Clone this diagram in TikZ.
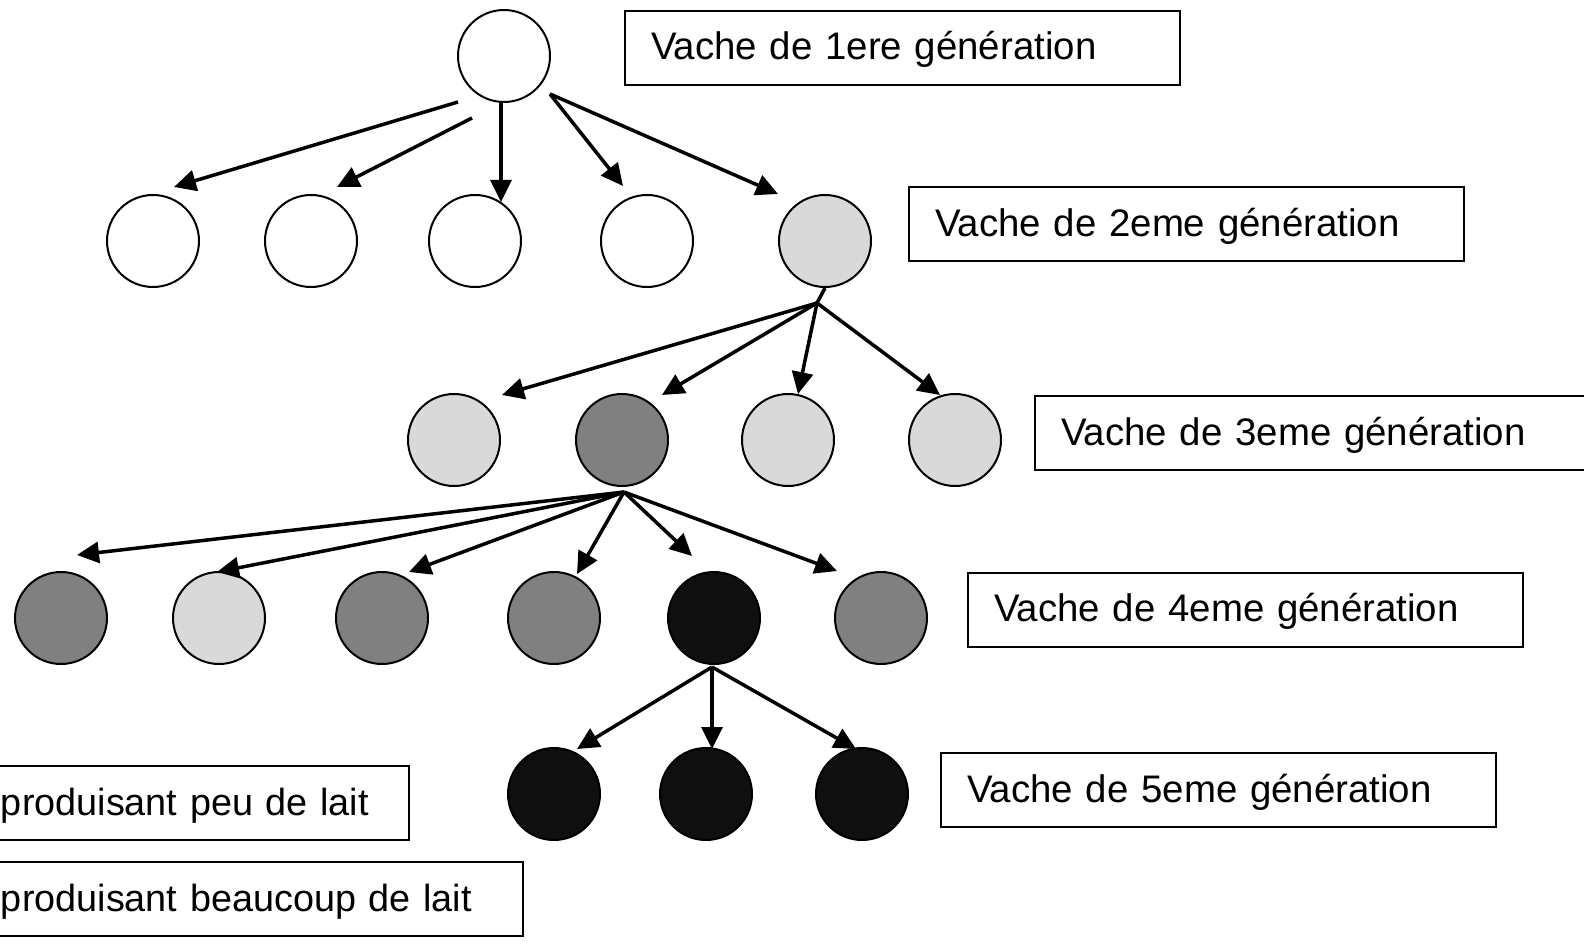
\documentclass[tikz,border=0pt]{standalone}
\usepackage{fontspec}
\setmainfont{Liberation Sans}
\usetikzlibrary{arrows.meta}

\definecolor{pale}{gray}{0.85}
\definecolor{midgray}{gray}{0.5}
\definecolor{dark}{gray}{0.06}

\tikzset{
  cow/.style={circle, draw, line width=1pt, minimum size=46pt, inner sep=0pt},
  genbox/.style={draw, line width=1pt, minimum height=37pt, text width=251.5pt,
    text height=15pt, text depth=3pt,
    inner xsep=13pt, align=left, anchor=west, font=\fontsize{19.2}{23}\selectfont},
  legbox/.style={genbox, inner xsep=5pt, font=\fontsize{18.9}{23}\selectfont},
  arr/.style={line width=1.75pt, -{Triangle[length=11pt,width=10.5pt]}},
}

\begin{document}
\begin{tikzpicture}[x=0.5pt, y=-0.5pt]
    \useasboundingbox (0,0) rectangle (1584,952);

    % Cows, generation by generation
    \node[cow, fill=white] (g1) at (504,56) {};

    \node[cow, fill=white] (g2a) at (153,241) {};
    \node[cow, fill=white] (g2b) at (311,241) {};
    \node[cow, fill=white] (g2c) at (475,241) {};
    \node[cow, fill=white] (g2d) at (647,241) {};
    \node[cow, fill=pale] (g2e) at (825,241) {};

    \node[cow, fill=pale] (g3a) at (454,440) {};
    \node[cow, fill=midgray] (g3b) at (622,440) {};
    \node[cow, fill=pale] (g3c) at (788,440) {};
    \node[cow, fill=pale] (g3d) at (955,440) {};

    \node[cow, fill=midgray] (g4a) at (61,618) {};
    \node[cow, fill=pale] (g4b) at (219,618) {};
    \node[cow, fill=midgray] (g4c) at (382,618) {};
    \node[cow, fill=midgray] (g4d) at (554,618) {};
    \node[cow, fill=dark] (g4e) at (714,618) {};
    \node[cow, fill=midgray] (g4f) at (881,618) {};

    \node[cow, fill=dark] (g5a) at (554,794) {};
    \node[cow, fill=dark] (g5b) at (706,794) {};
    \node[cow, fill=dark] (g5c) at (862,794) {};

    % Fork points under the parents
    \coordinate (f2) at ([shift={(-8,62)}]g2e.center);
    \coordinate (f3) at ([shift={(2,52)}]g3b.center);
    \coordinate (f4) at ([shift={(-2,49)}]g4e.center);

    % Generation labels
    \node[genbox] (lab1) at (624,48) {Vache de 1ere génération};
    \node[genbox] (lab2) at (908,224.5) {Vache de 2eme génération};
    \node[genbox] (lab3) at (1034,433) {Vache de 3eme génération};
    \node[genbox] (lab4) at (967,609.5) {Vache de 4eme génération};
    \node[genbox] (lab5) at (940,790) {Vache de 5eme génération};

    % Legend
    \node[legbox, text width=199pt] (leg1) at (-10,803) {produisant peu de lait};
    \node[legbox, text width=256pt] (leg2) at (-10,899) {produisant beaucoup de lait};

    % 1st -> 2nd generation
    \draw[arr] ([shift={(-46,46)}]g1.center) -- ([shift={(21,-54)}]g2a.center);
    \draw[arr] ([shift={(-32,62)}]g1.center) -- ([shift={(26,-54)}]g2b.center);
    \draw[arr] ([shift={(-3,47)}]g1.center) -- ([shift={(26,-39)}]g2c.center);
    \draw[arr] ([shift={(46,38)}]g1.center) -- ([shift={(-24,-55)}]g2d.center);
    \draw[arr] ([shift={(46,38)}]g1.center) -- ([shift={(-47,-47)}]g2e.center);

    % 2nd -> 3rd generation
    \draw[line width=1.75pt] (g2e.south) -- (f2);
    \draw[arr] (f2) -- ([shift={(48,-45)}]g3a.center);
    \draw[arr] (f2) -- ([shift={(40,-45)}]g3b.center);
    \draw[arr] (f2) -- ([shift={(10,-46)}]g3c.center);
    \draw[arr] (f2) -- ([shift={(-15,-45)}]g3d.center);

    % 3rd -> 4th generation
    \draw[arr] (f3) -- ([shift={(16,-63)}]g4a.center);
    \draw[arr] (f3) -- ([shift={(-2,-46)}]g4b.center);
    \draw[arr] (f3) -- ([shift={(27,-46)}]g4c.center);
    \draw[arr] (f3) -- ([shift={(23,-44)}]g4d.center);
    \draw[arr] (f3) -- ([shift={(-22,-62)}]g4e.center);
    \draw[arr] (f3) -- ([shift={(-44,-47)}]g4f.center);

    % 4th -> 5th generation
    \draw[arr] (f4) -- ([shift={(23,-45)}]g5a.center);
    \draw[arr] (f4) -- ([shift={(6,-45)}]g5b.center);
    \draw[arr] (f4) -- ([shift={(-6,-45)}]g5c.center);
\end{tikzpicture}
\end{document}
